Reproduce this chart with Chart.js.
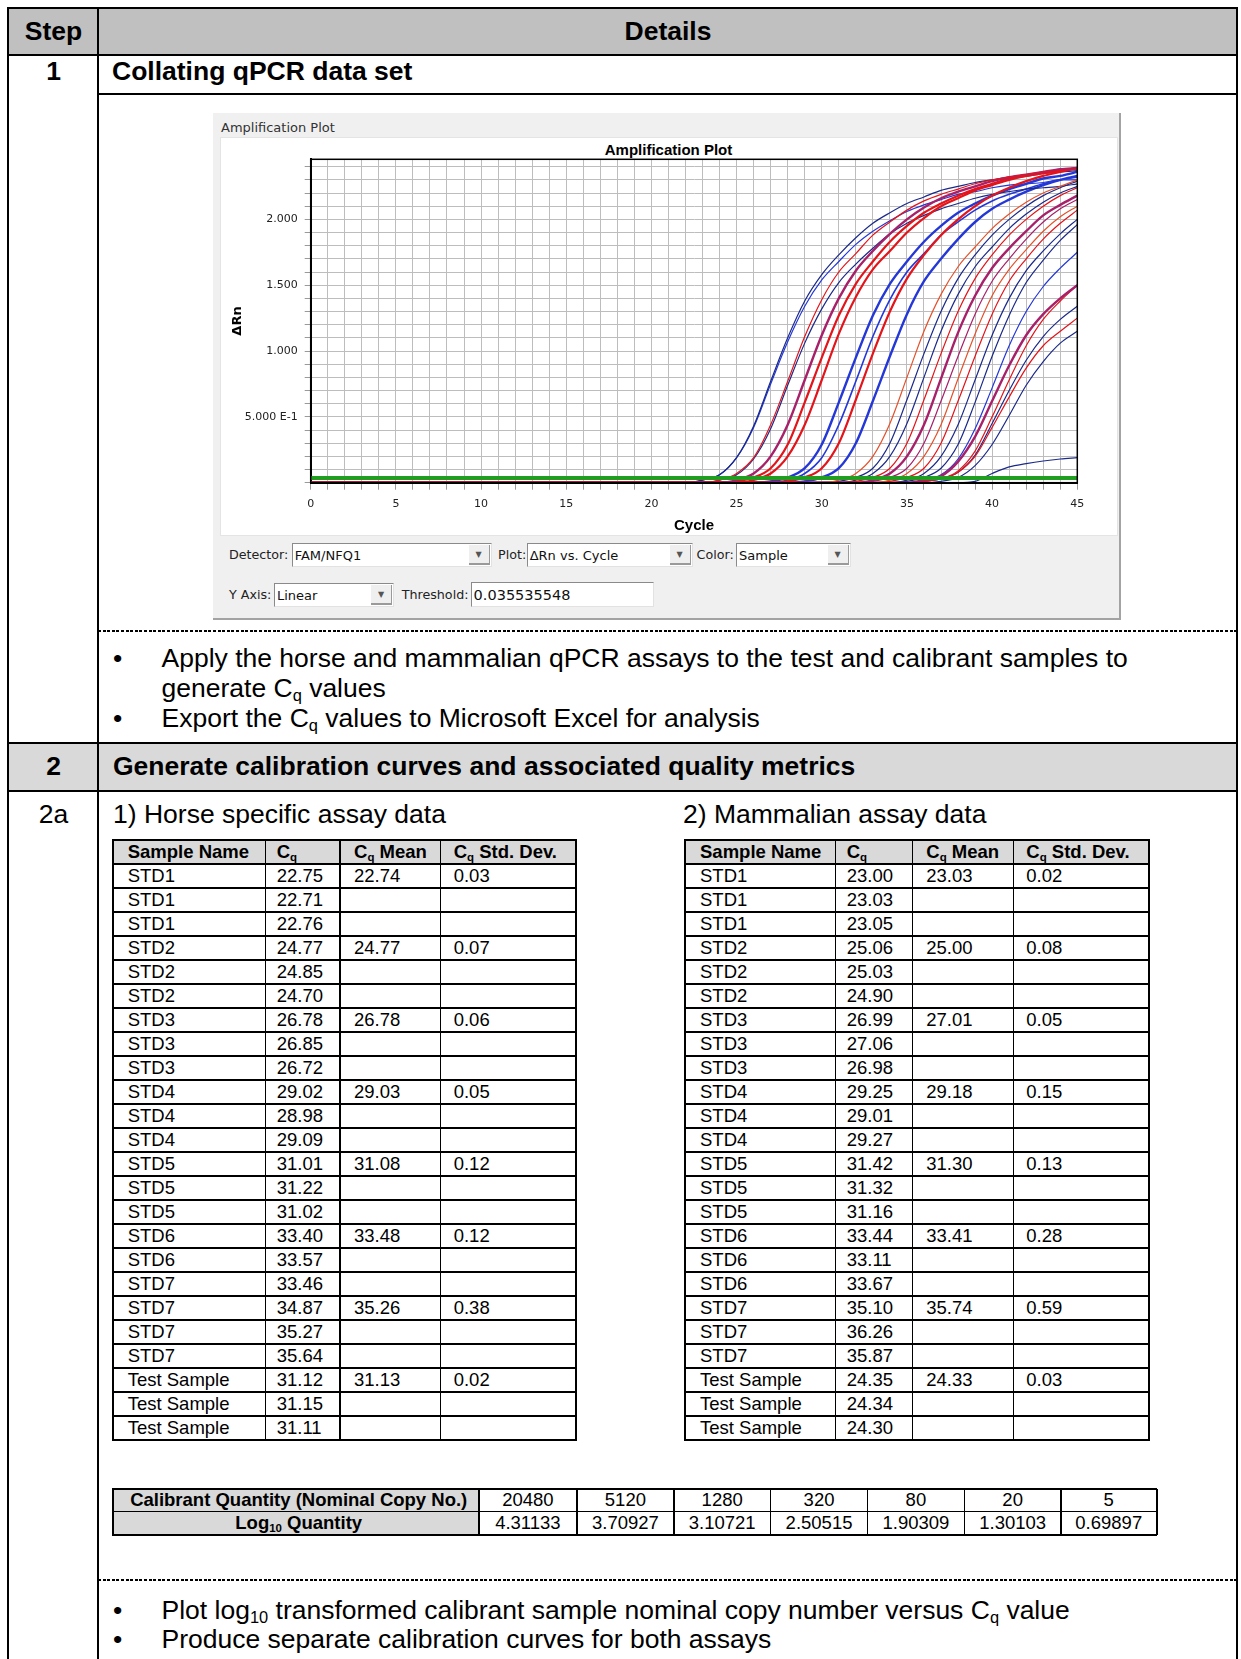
<!DOCTYPE html>
<html>
<head>
<meta charset="utf-8">
<title>qPCR data analysis - steps 1 and 2</title>
<script src="https://cdn.jsdelivr.net/npm/chart.js@4.4.1/dist/chart.umd.min.js"></script>
<style>
  body { margin: 0; width: 1241px; height: 1659px; position: relative; overflow: hidden; background: #fff;
         font-family: "Liberation Sans", Arial, sans-serif; color: #000; }
  .b { position: absolute; }
  .t { position: absolute; white-space: nowrap; line-height: 1; }
  .t sub { font-size: 0.62em; line-height: 0; vertical-align: -0.25em; }
  .combo { position: absolute; background: #fff; box-sizing: border-box;
           border-top: 1px solid #8a8a8a; border-left: 1px solid #8a8a8a;
           border-right: 1px solid #e2e2e2; border-bottom: 1px solid #e2e2e2; }
  .btn { position: absolute; top: 1px; bottom: 1px; right: 1px; width: 21px; box-sizing: border-box;
         background: #efefef; border-right: 1px solid #9a9a9a; border-bottom: 2px solid #9a9a9a;
         font: 8px "DejaVu Sans", sans-serif; color: #555; text-align: center; line-height: 20px; }
  #amp { position: absolute; left: 221px; top: 138px; z-index: 5; }
</style>
</head>
<body>
<canvas id="amp" width="896" height="397"></canvas>
<script>
// ---------- amplification plot data ----------
const cycles = [0, 21, 22, 23, 24, 25, 26, 27, 28, 29, 30, 31, 32, 33, 34, 35, 36, 37, 38, 39, 40, 41, 42, 43, 44, 45];

const c01 = [0, 0, 0, 0.02, 0.06, 0.19, 0.43, 0.77, 1.10, 1.38, 1.58, 1.73, 1.86, 1.97, 2.05, 2.12, 2.17, 2.22, 2.25, 2.28, 2.30, 2.32, 2.34, 2.35, 2.36, 2.37];
const c02 = [0, 0, 0, 0.02, 0.06, 0.19, 0.42, 0.75, 1.07, 1.34, 1.54, 1.68, 1.81, 1.91, 1.99, 2.06, 2.11, 2.15, 2.19, 2.21, 2.24, 2.26, 2.27, 2.28, 2.30, 2.30];
const c03 = [0, 0, 0, 0, 0.02, 0.07, 0.19, 0.44, 0.77, 1.11, 1.39, 1.60, 1.74, 1.88, 1.98, 2.07, 2.14, 2.19, 2.23, 2.27, 2.30, 2.32, 2.34, 2.36, 2.37, 2.38];
const c04 = [0, 0, 0, 0, 0.02, 0.06, 0.18, 0.41, 0.74, 1.06, 1.32, 1.52, 1.66, 1.78, 1.89, 1.97, 2.03, 2.08, 2.12, 2.16, 2.19, 2.21, 2.23, 2.24, 2.25, 2.27];
const c05 = [0, 0, 0, 0, 0, 0.02, 0.07, 0.20, 0.44, 0.78, 1.12, 1.40, 1.61, 1.76, 1.89, 2.00, 2.09, 2.16, 2.21, 2.25, 2.29, 2.32, 2.34, 2.36, 2.38, 2.39];
const c06 = [0, 0, 0, 0, 0, 0.01, 0.04, 0.11, 0.29, 0.61, 0.95, 1.27, 1.51, 1.68, 1.83, 1.95, 2.05, 2.12, 2.18, 2.23, 2.27, 2.31, 2.33, 2.35, 2.37, 2.39];
const c07 = [0, 0, 0, 0, 0, 0, 0.02, 0.07, 0.20, 0.44, 0.78, 1.13, 1.41, 1.62, 1.76, 1.90, 2.01, 2.10, 2.16, 2.22, 2.26, 2.30, 2.33, 2.35, 2.37, 2.39];
const c08 = [0, 0, 0, 0, 0, 0, 0, 0.01, 0.04, 0.11, 0.29, 0.61, 0.95, 1.27, 1.51, 1.68, 1.83, 1.95, 2.05, 2.12, 2.18, 2.23, 2.27, 2.31, 2.33, 2.36];
const c09 = [0, 0, 0, 0, 0, 0, 0, 0, 0.02, 0.07, 0.19, 0.44, 0.77, 1.11, 1.39, 1.60, 1.74, 1.88, 1.98, 2.07, 2.14, 2.19, 2.23, 2.27, 2.30, 2.32];
const c10 = [0, 0, 0, 0, 0, 0, 0, 0, 0.01, 0.04, 0.11, 0.30, 0.63, 0.98, 1.30, 1.55, 1.73, 1.88, 2.00, 2.10, 2.18, 2.24, 2.29, 2.33, 2.36, 2.39];
const c11 = [0, 0, 0, 0, 0, 0, 0, 0, 0, 0.01, 0.04, 0.11, 0.30, 0.62, 0.96, 1.28, 1.53, 1.70, 1.85, 1.98, 2.08, 2.15, 2.21, 2.26, 2.30, 2.33];
const c12 = [0, 0, 0, 0, 0, 0, 0, 0, 0, 0, 0, 0.02, 0.07, 0.20, 0.45, 0.80, 1.15, 1.43, 1.64, 1.79, 1.93, 2.04, 2.13, 2.20, 2.25, 2.30];
const c13 = [0, 0, 0, 0, 0, 0, 0, 0, 0, 0, 0, 0.01, 0.04, 0.11, 0.30, 0.63, 0.98, 1.30, 1.55, 1.73, 1.88, 2.00, 2.10, 2.18, 2.24, 2.29];
const c14 = [0, 0, 0, 0, 0, 0, 0, 0, 0, 0, 0, 0, 0.02, 0.07, 0.20, 0.45, 0.80, 1.15, 1.43, 1.64, 1.79, 1.93, 2.04, 2.13, 2.20, 2.25];
const c15 = [0, 0, 0, 0, 0, 0, 0, 0, 0, 0, 0, 0, 0.01, 0.04, 0.11, 0.30, 0.63, 0.98, 1.30, 1.55, 1.73, 1.88, 2.00, 2.10, 2.18, 2.24];
const c16 = [0, 0, 0, 0, 0, 0, 0, 0, 0, 0, 0, 0, 0, 0.02, 0.07, 0.20, 0.44, 0.79, 1.14, 1.42, 1.63, 1.78, 1.91, 2.03, 2.11, 2.18];
const c17 = [0, 0, 0, 0, 0, 0, 0, 0, 0, 0, 0, 0, 0, 0.01, 0.04, 0.11, 0.30, 0.62, 0.96, 1.28, 1.53, 1.70, 1.85, 1.98, 2.08, 2.15];
const c18 = [0, 0, 0, 0, 0, 0, 0, 0, 0, 0, 0, 0, 0, 0, 0.02, 0.07, 0.20, 0.44, 0.79, 1.13, 1.42, 1.62, 1.77, 1.91, 2.02, 2.10];
const c19 = [0, 0, 0, 0, 0, 0, 0, 0, 0, 0, 0, 0, 0, 0, 0.01, 0.04, 0.11, 0.30, 0.62, 0.96, 1.28, 1.53, 1.70, 1.85, 1.97, 2.07];
const c20 = [0, 0, 0, 0, 0, 0, 0, 0, 0, 0, 0, 0, 0, 0, 0, 0.02, 0.07, 0.20, 0.44, 0.78, 1.12, 1.40, 1.61, 1.76, 1.89, 2.00];
const c21 = [0, 0, 0, 0, 0, 0, 0, 0, 0, 0, 0, 0, 0, 0, 0, 0.01, 0.04, 0.11, 0.29, 0.61, 0.96, 1.27, 1.52, 1.69, 1.84, 1.96];
const c22 = [0, 0, 0, 0, 0, 0, 0, 0, 0, 0, 0, 0, 0, 0, 0, 0, 0.02, 0.06, 0.18, 0.41, 0.72, 1.04, 1.30, 1.49, 1.63, 1.75];
const c23 = [0, 0, 0, 0, 0, 0, 0, 0, 0, 0, 0, 0, 0, 0, 0, 0, 0.02, 0.05, 0.16, 0.35, 0.62, 0.89, 1.12, 1.28, 1.40, 1.50];
const c24 = [0, 0, 0, 0, 0, 0, 0, 0, 0, 0, 0, 0, 0, 0, 0, 0, 0.01, 0.03, 0.09, 0.24, 0.50, 0.78, 1.04, 1.24, 1.38, 1.50];
const c25 = [0, 0, 0, 0, 0, 0, 0, 0, 0, 0, 0, 0, 0, 0, 0, 0, 0.01, 0.03, 0.08, 0.21, 0.45, 0.70, 0.93, 1.11, 1.24, 1.34];
const c26 = [0, 0, 0, 0, 0, 0, 0, 0, 0, 0, 0, 0, 0, 0, 0, 0, 0.01, 0.03, 0.08, 0.20, 0.42, 0.65, 0.87, 1.04, 1.15, 1.25];
const c27 = [0, 0, 0, 0, 0, 0, 0, 0, 0, 0, 0, 0, 0, 0, 0, 0, 0, 0.01, 0.04, 0.13, 0.29, 0.51, 0.74, 0.92, 1.06, 1.15];
const c28 = [0, 0, 0, 0, 0, 0, 0, 0, 0, 0, 0, 0, 0, 0, 0, 0, 0, 0, 0, 0.01, 0.07, 0.12, 0.145, 0.165, 0.18, 0.19];

const thresholdValue = 0.035535548;
const baselineMarks = [2.8, 18.3];
const yTickValues = [0.5, 1, 1.5, 2];
const yTickText = ['5.000 E-1', '1.000', '1.500', '2.000'];

// ---------- table data ----------
const horseNames = ['STD1','STD1','STD1','STD2','STD2','STD2','STD3','STD3','STD3','STD4','STD4','STD4',
                    'STD5','STD5','STD5','STD6','STD6','STD7','STD7','STD7','STD7','Test Sample','Test Sample','Test Sample'];
const horseCq = ['22.75','22.71','22.76','24.77','24.85','24.70','26.78','26.85','26.72','29.02','28.98','29.09',
                 '31.01','31.22','31.02','33.40','33.57','33.46','34.87','35.27','35.64','31.12','31.15','31.11'];
const horseMean = ['22.74','','','24.77','','','26.78','','','29.03','','','31.08','','','33.48','','','35.26','','','31.13','',''];
const horseSd = ['0.03','','','0.07','','','0.06','','','0.05','','','0.12','','','0.12','','','0.38','','','0.02','',''];

const mamNames = ['STD1','STD1','STD1','STD2','STD2','STD2','STD3','STD3','STD3','STD4','STD4','STD4',
                  'STD5','STD5','STD5','STD6','STD6','STD6','STD7','STD7','STD7','Test Sample','Test Sample','Test Sample'];
const mamCq = ['23.00','23.03','23.05','25.06','25.03','24.90','26.99','27.06','26.98','29.25','29.01','29.27',
               '31.42','31.32','31.16','33.44','33.11','33.67','35.10','36.26','35.87','24.35','24.34','24.30'];
const mamMean = ['23.03','','','25.00','','','27.01','','','29.18','','','31.30','','','33.41','','','35.74','','','24.33','',''];
const mamSd = ['0.02','','','0.08','','','0.05','','','0.15','','','0.13','','','0.28','','','0.59','','','0.03','',''];

const calibQty = ['20480','5120','1280','320','80','20','5'];
const calibLog = ['4.31133','3.70927','3.10721','2.50515','1.90309','1.30103','0.69897'];

// ---------- page helpers ----------
function rect(x, y, w, h, bg) {
  const d = document.createElement('div');
  d.className = 'b';
  Object.assign(d.style, { left: x + 'px', top: y + 'px', width: w + 'px', height: h + 'px', background: bg });
  document.body.appendChild(d);
  return d;
}
function hline(x1, x2, y, w) { rect(x1, y - w / 2, x2 - x1, w, '#000'); }
function vline(x, y1, y2, w) { rect(x - w / 2, y1, w, y2 - y1, '#000'); }
function put(html, x, base, size, o = {}) {
  const d = document.createElement('div');
  d.className = 't';
  d.innerHTML = html;
  d.style.fontSize = size + 'px';
  d.style.height = size + 'px';
  d.style.top = (base - 0.846 * size) + 'px';
  if (o.center) { d.style.left = (x - 400) + 'px'; d.style.width = '800px'; d.style.textAlign = 'center'; }
  else d.style.left = x + 'px';
  if (o.bold) d.style.fontWeight = 'bold';
  if (o.font) d.style.fontFamily = o.font;
  if (o.color) d.style.color = o.color;
  document.body.appendChild(d);
}
function dashed(x1, x2, y) {
  const d = rect(x1, y - 0.75, x2 - x1, 1.5, 'transparent');
  d.style.background = 'repeating-linear-gradient(90deg, #000 0 3px, transparent 3px 4.6px)';
}

// ---------- outer step table ----------
rect(9, 9, 1227, 45, '#c0c0c0');
rect(9, 743, 1227, 47, '#d9d9d9');
hline(7, 1238, 8, 2);
vline(8, 7, 1659, 2);
vline(1237, 7, 1659, 2);
vline(98, 8, 1659, 2);
hline(7, 1238, 55, 2);
hline(98, 1237, 93.8, 1.5);
hline(7, 1238, 743, 2);
hline(7, 1238, 791, 2);
dashed(98, 1237, 631);
dashed(98, 1237, 1580);

put('Step', 53.5, 40.7, 26.5, { bold: true, center: true });
put('Details', 668, 40.7, 26.5, { bold: true, center: true });
put('1', 53.5, 80, 26.5, { bold: true, center: true });
put('Collating qPCR data set', 112, 80, 26.5, { bold: true });

put('•', 113, 667, 26.5);
put('Apply the horse and mammalian qPCR assays to the test and calibrant samples to', 161.5, 667, 26.5);
put('generate C<sub>q</sub> values', 161.5, 697, 26.5);
put('•', 113, 727, 26.5);
put('Export the C<sub>q</sub> values to Microsoft Excel for analysis', 161.5, 727, 26.5);

put('2', 53.5, 775, 26.5, { bold: true, center: true });
put('Generate calibration curves and associated quality metrics', 113, 775, 26.5, { bold: true });
put('2a', 53.5, 823, 26.5, { center: true });
put('1) Horse specific assay data', 113, 823, 26.5);
put('2) Mammalian assay data', 683, 823, 26.5);

put('•', 113, 1619, 26.5);
put('Plot log<sub>10</sub> transformed calibrant sample nominal copy number versus C<sub>q</sub> value', 161.5, 1619, 26.5);
put('•', 113, 1648, 26.5);
put('Produce separate calibration curves for both assays', 161.5, 1648, 26.5);

// ---------- Cq tables ----------
function dataTable(cols, names, cq, mean, sd) {
  const top = 840, rh = 24, n = names.length, bottom = top + rh * (n + 1);
  rect(cols[0], top, cols[4] - cols[0], rh, '#d9d9d9');
  for (let i = 0; i <= n + 1; i++) hline(cols[0], cols[4], top + i * rh, (i === 0 || i === n + 1) ? 2 : 1.5);
  cols.forEach((x, j) => vline(x, top - 1, bottom + 1, (j === 0 || j === 4) ? 2 : 1.5));
  const pads = [15, 11, 14, 13];
  const heads = ['Sample Name', 'C<sub>q</sub>', 'C<sub>q</sub> Mean', 'C<sub>q</sub> Std. Dev.'];
  heads.forEach((h, j) => put(h, cols[j] + pads[j], top + 18.3, 18.5, { bold: true }));
  for (let i = 0; i < n; i++) {
    const base = top + rh * (i + 1) + 18.7;
    [names[i], cq[i], mean[i], sd[i]].forEach((v, j) => { if (v) put(v, cols[j] + pads[j], base, 18.5); });
  }
}
dataTable([112.7, 265.7, 340, 440.7, 575.7], horseNames, horseCq, horseMean, horseSd);
dataTable([685, 835.7, 912.3, 1013.3, 1149], mamNames, mamCq, mamMean, mamSd);

// calibrant quantity table
const cx = [112.6, 478.8, 577, 673.8, 770.6, 867.5, 964.3, 1061, 1156.5];
const cy = [1489.3, 1511.7, 1535];
rect(cx[0], cy[0], cx[1] - cx[0], cy[2] - cy[0], '#d9d9d9');
cy.forEach((y, i) => hline(cx[0] - 1, cx[8] + 1, y, i === 1 ? 1.5 : 2));
cx.forEach((x, j) => vline(x, cy[0], cy[2], (j === 0 || j === 8 || j === 1) ? 2 : 1.5));
put('Calibrant Quantity (Nominal Copy No.)', (cx[0] + cx[1]) / 2 + 3, 1507, 18.5, { bold: true, center: true });
put('Log<sub>10</sub> Quantity', (cx[0] + cx[1]) / 2 + 3, 1529.7, 18.5, { bold: true, center: true });
calibQty.forEach((q, j) => put(q, (cx[j + 1] + cx[j + 2]) / 2, 1507, 18.5, { center: true }));
calibLog.forEach((q, j) => put(q, (cx[j + 1] + cx[j + 2]) / 2, 1529.7, 18.5, { center: true }));

// ---------- software window around the plot ----------
const ui = '"DejaVu Sans", sans-serif';
rect(213, 113, 908, 507, '#f0f0f0');
rect(1119, 113, 2, 507, '#a3a3a3');
rect(213, 618, 908, 2, '#a3a3a3');
const white = rect(221, 138, 896, 397, '#fff');
white.style.boxShadow = '0 0 0 1px #e4e4e4';
put('Amplification Plot', 221, 131.7, 13, { font: ui, color: '#333' });
put('Amplification Plot', 668.5, 155, 15, { bold: true, center: true });

function combo(x1, y1, x2, y2, text, size, withButton) {
  const d = rect(x1, y1, x2 - x1, y2 - y1, '#fff');
  d.className = 'combo';
  if (withButton) {
    const bt = document.createElement('div');
    bt.className = 'btn';
    bt.textContent = '▼';
    d.appendChild(bt);
  }
  put(text, x1 + 3, y2 - 6.5, size, { font: ui, color: '#111' });
}
put('Detector:', 229, 560, 12.7, { font: ui, color: '#222' });
combo(291.7, 542.7, 491.7, 566.7, 'FAM/NFQ1', 13, true);
put('Plot:', 498, 560, 12.7, { font: ui, color: '#222' });
combo(526.7, 542.7, 692.6, 566.7, 'ΔRn vs. Cycle', 13, true);
put('Color:', 696.6, 560, 12.7, { font: ui, color: '#222' });
combo(736, 542.7, 850.7, 566.7, 'Sample', 13, true);
put('Y Axis:', 229, 600, 12.7, { font: ui, color: '#222' });
combo(274, 582.7, 394, 606.7, 'Linear', 13, true);
put('Threshold:', 401.7, 600, 12.7, { font: ui, color: '#222' });
combo(470.6, 581.7, 654, 606.7, '0.035535548', 14.5, false);

// ---------- the amplification plot ----------
const navy = '#1b2a8a', blue = '#2438d8', red = '#e3151b', purple = '#a8206a', orange = '#e4512b';
const curves = [c01, c02, c03, c04, c05, c06, c07, c08, c09, c10, c11, c12, c13, c14,
                c15, c16, c17, c18, c19, c20, c21, c22, c23, c24, c25, c26, c27, c28];
const curveColors = [navy, blue, red, navy, purple, red, red, blue, blue, red, blue, orange, navy, navy,
                     red, purple, purple, orange, red, navy, navy, blue, purple, red, navy, red, navy, navy];
const curveWidths = [1.2, 1.2, 1.2, 1.2, 2.4, 2.2, 2.2, 2.4, 1.6, 2.2, 2.4, 1.2, 1.2, 1.2,
                     1.2, 2.4, 1.2, 1.2, 1.2, 1.2, 1.2, 1.2, 2.4, 1.2, 1.2, 1.2, 1.2, 1.2];

Chart.defaults.font.family = 'DejaVu Sans';

const frame = {
  id: 'frame',
  afterDatasetsDraw(chart) {
    const { ctx, chartArea: a } = chart;
    ctx.save();
    ctx.strokeStyle = '#000';
    ctx.lineWidth = 1.5;
    ctx.strokeRect(a.left, a.top, a.right - a.left, a.bottom - a.top);
    ctx.restore();
  }
};

const datasets = [
  { data: [{ x: 0, y: thresholdValue }, { x: 45, y: thresholdValue }], borderColor: '#1f9e1f', borderWidth: 4, order: 0 },
  { data: baselineMarks.map(x => ({ x, y: -0.05 })), showLine: false, pointStyle: 'triangle', pointRadius: 4.5,
    pointBackgroundColor: '#cc2020', pointBorderWidth: 0, clip: false, order: 0 },
  ...curves.map((vals, i) => ({
    data: cycles.map((c, k) => ({ x: c, y: vals[k] })),
    borderColor: curveColors[i],
    borderWidth: curveWidths[i],
    cubicInterpolationMode: 'monotone',
    order: (curveColors[i] === navy || curveColors[i] === blue) ? 2 : 1
  }))
];

new Chart(document.getElementById('amp'), {
  type: 'line',
  data: { datasets },
  options: {
    responsive: false,
    animation: false,
    devicePixelRatio: 1,
    layout: { padding: { left: 0, right: 39.7, top: 21.3, bottom: 0 } },
    elements: { point: { radius: 0 } },
    plugins: { legend: { display: false }, tooltip: { enabled: false }, title: { display: false } },
    scales: {
      x: {
        type: 'linear', min: 0, max: 45,
        afterFit(s) { s.height = 52.3; },
        ticks: { stepSize: 1, autoSkip: false, maxRotation: 0, includeBounds: false, padding: 8, color: '#222',
                 font: { size: 11 }, callback: v => (v % 5 === 0 ? String(v) : '') },
        grid: { color: '#bdbdbd', tickLength: 7, tickColor: '#9a9a9a' },
        border: { color: '#000', width: 2 },
        title: { display: true, text: 'Cycle', color: '#000',
                 font: { family: 'Liberation Sans', size: 15, weight: 'bold' }, padding: { top: 0, bottom: 0.5 } }
      },
      y: {
        type: 'linear', min: 0, max: 2.456,
        afterFit(s) { s.width = 89.7; },
        ticks: { stepSize: 0.1, autoSkip: false, includeBounds: false, padding: 7, color: '#222', font: { size: 11 },
                 callback: v => { const k = yTickValues.findIndex(t => Math.abs(t - v) < 1e-6); return k >= 0 ? yTickText[k] : ''; } },
        grid: { color: '#bdbdbd', tickLength: 6, tickColor: '#9a9a9a' },
        border: { color: '#000', width: 2 },
        title: { display: true, text: 'ΔRn', color: '#000', font: { size: 13, weight: 'bold' }, padding: { top: 8.5, bottom: 0 } }
      }
    }
  },
  plugins: [frame]
});
</script>
</body>
</html>
